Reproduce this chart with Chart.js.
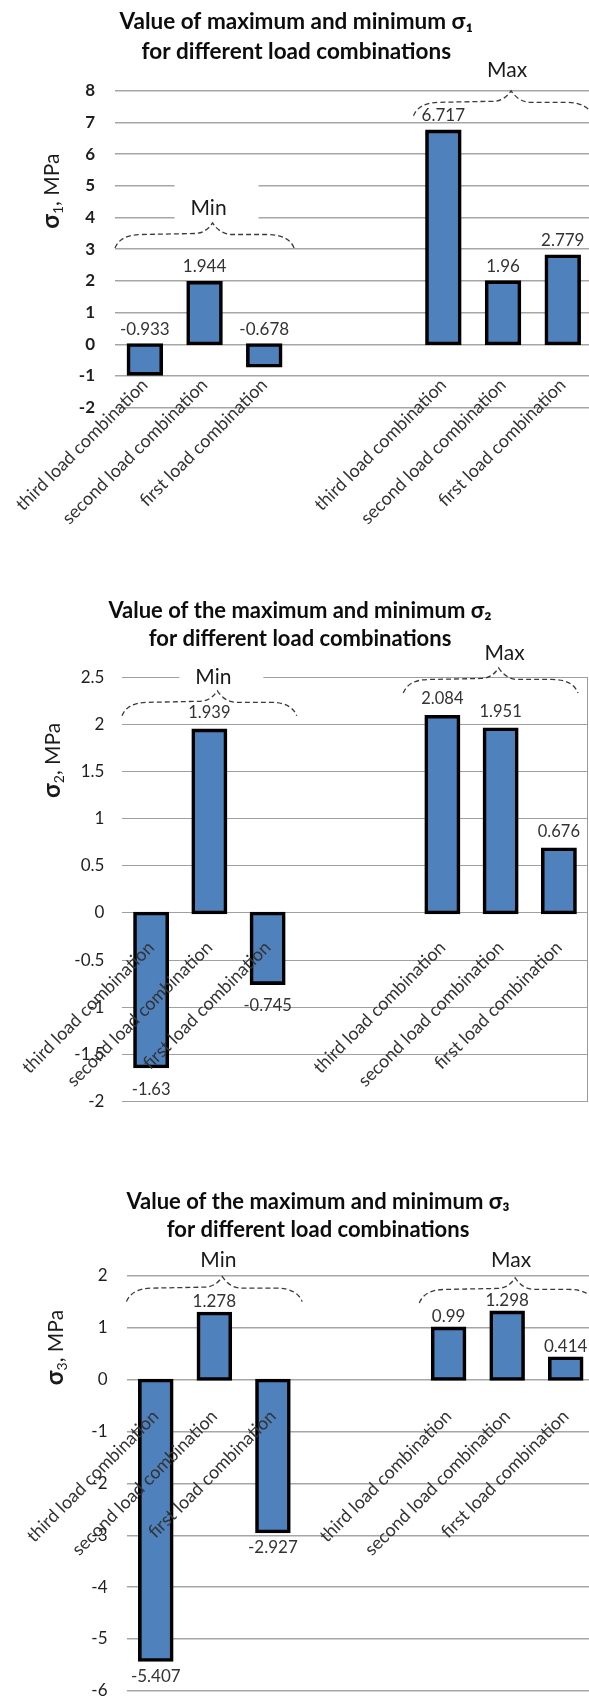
<!DOCTYPE html>
<html>
<head>
<meta charset="utf-8">
<script src="https://cdn.jsdelivr.net/npm/chart.js@4.4.1/dist/chart.umd.min.js"></script>
<style>
  html, body { margin: 0; padding: 0; background: #fff; width: 589px; height: 1707px; overflow: hidden; position: relative; }
  canvas { position: absolute; left: 0; }
</style>
</head>
<body>
<canvas id="sigma1" width="600" height="545" style="top:0px"></canvas>
<canvas id="sigma2" width="600" height="580" style="top:575px"></canvas>
<canvas id="sigma3" width="620" height="560" style="top:1160px"></canvas>
<script>
// Principal stresses for the three load combinations, minimum and maximum values (MPa)
const loadCases = ['third load combination', 'second load combination', 'first load combination'];
const groupNames = ['Min', 'Max'];

const sigma1Min = [-0.933, 1.944, -0.678];
const sigma1Max = [6.717, 1.96, 2.779];
const sigma2Min = [-1.63, 1.939, -0.745];
const sigma2Max = [2.084, 1.951, 0.676];
const sigma3Min = [-5.407, 1.278, -2.927];
const sigma3Max = [0.99, 1.298, 0.414];

const sigma1Ticks = [-2, -1, 0, 1, 2, 3, 4, 5, 6, 7, 8];
const sigma2Ticks = [-2, -1.5, -1, -0.5, 0, 0.5, 1, 1.5, 2, 2.5];
const sigma3Ticks = [-6, -5, -4, -3, -2, -1, 0, 1, 2];

const FONT = 'Lato, "Noto Sans", "DejaVu Sans", sans-serif';
Chart.defaults.font.family = FONT;

// Value written above (or below) each bar
const valueLabels = {
  id: 'valueLabels',
  afterDatasetsDraw(chart, args, o) {
    const ctx = chart.ctx;
    const meta = chart.getDatasetMeta(0);
    const data = chart.data.datasets[0].data;
    ctx.save();
    ctx.font = `${o.size}px ${FONT}`;
    ctx.fillStyle = o.color;
    ctx.textAlign = 'center';
    ctx.textBaseline = 'middle';
    meta.data.forEach((bar, i) => {
      const v = data[i];
      if (v === null || v === undefined) return;
      const top = Math.min(bar.y, bar.base);
      const bottom = Math.max(bar.y, bar.base);
      const y = (v >= 0 || o.negativeAbove) ? top - o.above : bottom + o.below;
      ctx.fillText(String(v), bar.x, y);
    });
    ctx.restore();
  }
};

// Dashed curly braces with the Min / Max group captions
const groupBraces = {
  id: 'groupBraces',
  _geom(chart, g) {
    const xs = chart.scales.x, ys = chart.scales.y;
    const half = (xs.getPixelForValue(1) - xs.getPixelForValue(0)) / 2;
    const xL = xs.getPixelForValue(g.from) - half + (g.dx || 0);
    const xR = xs.getPixelForValue(g.to) + half + (g.dx || 0);
    const tx = xs.getPixelForValue((g.from + g.to) / 2) + 4;
    const ty = ys.getPixelForValue(g.at);
    return { xL, xR, tx, ty, peak: ty + g.gap };
  },
  beforeDatasetsDraw(chart, args, o) {
    const ctx = chart.ctx;
    ctx.save();
    o.groups.forEach(g => {
      if (!g.knockout) return;
      const { tx, ty } = this._geom(chart, g);
      ctx.fillStyle = '#ffffff';
      ctx.fillRect(tx - 34, ty - 24, 84, 38);
    });
    if (o.rightBorder) {
      const a = chart.chartArea;
      ctx.strokeStyle = '#9a9a9a';
      ctx.lineWidth = 1;
      ctx.beginPath();
      ctx.moveTo(a.right - 0.5, a.top);
      ctx.lineTo(a.right - 0.5, a.bottom);
      ctx.stroke();
    }
    ctx.restore();
  },
  afterDatasetsDraw(chart, args, o) {
    const ctx = chart.ctx;
    ctx.save();
    o.groups.forEach(g => {
      const { xL, xR, tx, ty, peak } = this._geom(chart, g);
      const w = xR - xL;
      const xm = (xL + xR) / 2 + 8;
      const yS = peak + 11.5;
      const yE = peak + 25;
      ctx.strokeStyle = '#3a3a3a';
      ctx.lineWidth = 1.3;
      ctx.setLineDash([5, 3]);
      ctx.beginPath();
      ctx.moveTo(xL, yE);
      ctx.quadraticCurveTo(xL + 0.03 * w, yS, xL + 0.15 * w, yS);
      ctx.lineTo(xm - 0.1 * w, yS - 1);
      ctx.quadraticCurveTo(xm - 0.04 * w, yS - 1, xm, peak);
      ctx.quadraticCurveTo(xm + 0.04 * w, yS - 1, xm + 0.1 * w, yS);
      ctx.lineTo(xR - 0.15 * w, yS);
      ctx.quadraticCurveTo(xR - 0.03 * w, yS, xR, yE);
      ctx.stroke();
      ctx.setLineDash([]);
      ctx.font = `21px ${FONT}`;
      ctx.fillStyle = '#1a1a1a';
      ctx.textAlign = 'center';
      ctx.textBaseline = 'middle';
      ctx.fillText(g.label, tx, ty);
    });
    ctx.restore();
  }
};

// Rotated y-axis caption with a subscripted stress index
const stressAxisTitle = {
  id: 'stressAxisTitle',
  afterDraw(chart, args, o) {
    const ctx = chart.ctx;
    const y = chart.scales.y.getPixelForValue(o.at);
    const parts = [
      { text: 'σ', font: `bold 24px ${FONT}`, dy: 0 },
      { text: o.sub, font: `14px ${FONT}`, dy: 4 },
      { text: ', MPa', font: `21px ${FONT}`, dy: 0 }
    ];
    ctx.save();
    let total = 0;
    parts.forEach(p => { ctx.font = p.font; p.w = ctx.measureText(p.text).width; total += p.w; });
    ctx.translate(o.x, y);
    ctx.rotate(-Math.PI / 2);
    ctx.fillStyle = '#1a1a1a';
    ctx.textBaseline = 'alphabetic';
    ctx.textAlign = 'left';
    let cx = -total / 2;
    parts.forEach(p => { ctx.font = p.font; ctx.fillText(p.text, cx, 7 + p.dy); cx += p.w; });
    ctx.restore();
  }
};

function stressChart(id, cfg) {
  const labels = [...loadCases, '', '', ...loadCases];
  const values = [...cfg.min, null, null, ...cfg.max];
  return new Chart(document.getElementById(id), {
    type: 'bar',
    data: {
      labels,
      datasets: [{
        data: values,
        backgroundColor: '#4F81BD',
        borderColor: '#000000',
        borderWidth: 3.6,
        borderSkipped: false,
        inflateAmount: 1.8,
        categoryPercentage: 1,
        barPercentage: cfg.barPct
      }]
    },
    options: {
      responsive: false,
      animation: false,
      layout: { padding: cfg.pad },
      plugins: {
        legend: { display: false },
        tooltip: { enabled: false },
        title: {
          display: true,
          text: cfg.title,
          color: '#0d0d0d',
          font: { family: FONT, size: cfg.titleSize, weight: 'bold', lineHeight: cfg.titleLH },
          padding: cfg.titlePad
        },
        valueLabels: cfg.labels,
        groupBraces: { groups: cfg.groups, rightBorder: !!cfg.rightBorder },
        stressAxisTitle: cfg.axisTitle
      },
      scales: {
        x: {
          position: { y: 0 },
          grid: { display: false, drawTicks: false },
          border: { display: false },
          ticks: {
            autoSkip: false, minRotation: 45, maxRotation: 45,
            padding: cfg.xPad, color: '#333333',
            font: { family: FONT, size: cfg.xSize }, z: 1
          },
          afterFit(s) { s.paddingLeft = 0; s.paddingRight = 0; }
        },
        y: {
          min: cfg.ticks[0],
          max: cfg.ticks[cfg.ticks.length - 1],
          afterBuildTicks(s) { s.ticks = cfg.ticks.map(v => ({ value: v })); },
          grid: { color: cfg.gridColor, lineWidth: cfg.gridWidth, drawTicks: false },
          border: { display: false },
          ticks: {
            padding: cfg.yPad, color: '#1f1f1f',
            font: { family: FONT, size: 17, weight: cfg.yWeight },
            callback: v => String(v)
          },
          afterFit(s) { s.width = cfg.yWidth; }
        }
      }
    },
    plugins: [groupBraces, valueLabels, stressAxisTitle]
  });
}

stressChart('sigma1', {
  min: sigma1Min, max: sigma1Max, ticks: sigma1Ticks,
  title: ['Value of maximum and minimum σ₁', 'for different load combinations'],
  titleSize: 22.5, titleLH: 30 / 22.5, titlePad: { top: 6.7, bottom: 24 },
  pad: { left: 0, right: 7.4, top: 0, bottom: 137.3 },
  yWidth: 115, yPad: 20, yWeight: 'bold', xPad: 30, xSize: 18, barPct: 0.55,
  gridColor: '#a6a6a6', gridWidth: 1.5,
  labels: { size: 17, color: '#333333', above: 16, below: 16, negativeAbove: true },
  groups: [
    { label: groupNames[0], from: 0, to: 2, at: 4.3, gap: 15, knockout: true },
    { label: groupNames[1], from: 5, to: 7, at: 8.66, gap: 21 }
  ],
  axisTitle: { x: 52, at: 4.83, sub: '1' }
});

stressChart('sigma2', {
  min: sigma2Min, max: sigma2Max, ticks: sigma2Ticks,
  title: ['Value of the maximum and minimum σ₂', 'for different load combinations'],
  titleSize: 22, titleLH: 28.3 / 22, titlePad: { top: 21.55, bottom: 24.35 },
  pad: { left: 12, right: 12, top: 0, bottom: 53.7 },
  yWidth: 110, yPad: 17.6, yWeight: 'normal', xPad: 24, xSize: 18, barPct: 0.555,
  gridColor: '#a0a0a0', gridWidth: 1,
  labels: { size: 16.5, color: '#333333', above: 18, below: 23 },
  groups: [
    { label: groupNames[0], from: 0, to: 2, at: 2.5, gap: 13.3, knockout: true },
    { label: groupNames[1], from: 5, to: 7, at: 2.753, gap: 14.3, dx: -10 }
  ],
  axisTitle: { x: 52.6, at: 1.62, sub: '2' },
  rightBorder: true
});

stressChart('sigma3', {
  min: sigma3Min, max: sigma3Max, ticks: sigma3Ticks,
  title: ['Value of the maximum and minimum σ₃', 'for different load combinations'],
  titleSize: 22, titleLH: 28.3 / 22, titlePad: { top: 27.55, bottom: 31.85 },
  pad: { left: 41, right: 25, top: 0, bottom: 19 },
  yWidth: 85.5, yPad: 19, yWeight: 'normal', xPad: 26, xSize: 18, barPct: 0.545,
  gridColor: '#a6a6a6', gridWidth: 1.5,
  labels: { size: 17, color: '#333333', above: 12, below: 16 },
  groups: [
    { label: groupNames[0], from: 0, to: 2, at: 2.31, gap: 16.7 },
    { label: groupNames[1], from: 5, to: 7, at: 2.31, gap: 18 }
  ],
  axisTitle: { x: 56.3, at: 0.62, sub: '3' }
});
</script>
</body>
</html>
